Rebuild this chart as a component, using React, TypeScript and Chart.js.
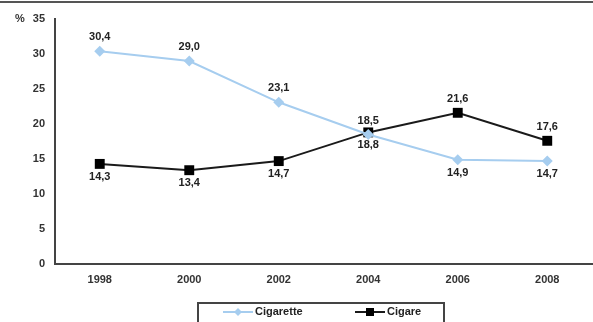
import React, { useEffect, useRef } from "react";
import { Chart, registerables } from "chart.js";

Chart.register(...registerables);

const years = ["1998", "2000", "2002", "2004", "2006", "2008"];
const cigarette = [30.4, 29.0, 23.1, 18.5, 14.9, 14.7];
const cigare = [14.3, 13.4, 14.7, 18.8, 21.6, 17.6];
const cigaretteLabelSide = ["above", "above", "above", "above", "below", "below"];
const cigareLabelSide = ["below", "below", "below", "below", "above", "above"];
const yTicks = [0, 5, 10, 15, 20, 25, 30, 35];

const FONT = "'Liberation Sans', Arial, sans-serif";
const BLUE = "#a6cdef";
const DARK = "#1a1a1a";

const fmt = (v: number) => v.toFixed(1).replace(".", ",");

const decorPlugin = {
  id: "decor",
  afterDatasetsDraw(chart: any) {
    const ctx = chart.ctx;
    ctx.save();
    ctx.font = `bold 11px ${FONT}`;
    ctx.fillStyle = "#222";
    ctx.textAlign = "center";
    ctx.textBaseline = "middle";
    const sides = [cigaretteLabelSide, cigareLabelSide];
    chart.data.datasets.forEach((ds: any, di: number) => {
      const meta = chart.getDatasetMeta(di);
      meta.data.forEach((pt: any, i: number) => {
        const off = sides[di][i] === "above" ? -14 : 13;
        ctx.fillText(fmt(ds.data[i]), pt.x, pt.y + off);
      });
    });
    ctx.restore();
  },
  afterDraw(chart: any) {
    const ctx = chart.ctx;
    ctx.save();
    ctx.fillStyle = "#555";
    ctx.fillRect(0, 1, chart.width, 2);
    ctx.font = `bold 11px ${FONT}`;
    ctx.fillStyle = "#333";
    ctx.textAlign = "left";
    ctx.textBaseline = "middle";
    ctx.fillText("%", 15, chart.scales.y.getPixelForValue(35));
    ctx.strokeStyle = "#444";
    ctx.lineWidth = 2;
    ctx.strokeRect(198, 303, 246, 22);
    const ly = 312;
    ctx.strokeStyle = BLUE;
    ctx.lineWidth = 2;
    ctx.beginPath();
    ctx.moveTo(223, ly);
    ctx.lineTo(253, ly);
    ctx.stroke();
    ctx.fillStyle = BLUE;
    ctx.beginPath();
    ctx.moveTo(238, ly - 4);
    ctx.lineTo(242, ly);
    ctx.lineTo(238, ly + 4);
    ctx.lineTo(234, ly);
    ctx.closePath();
    ctx.fill();
    ctx.strokeStyle = DARK;
    ctx.beginPath();
    ctx.moveTo(355, ly);
    ctx.lineTo(385, ly);
    ctx.stroke();
    ctx.fillStyle = "#000";
    ctx.fillRect(366, ly - 4, 8, 8);
    ctx.font = `bold 11px ${FONT}`;
    ctx.fillStyle = "#222";
    ctx.textAlign = "left";
    ctx.fillText("Cigarette", 255, ly);
    ctx.fillText("Cigare", 387, ly);
    ctx.restore();
  },
};

export default function App() {
  const ref = useRef<HTMLCanvasElement | null>(null);
  useEffect(() => {
    document.body.style.margin = "0";
    const chart = new Chart(ref.current as HTMLCanvasElement, {
      type: "line",
      data: {
        labels: years,
        datasets: [
          {
            label: "Cigarette",
            data: cigarette,
            borderColor: BLUE,
            backgroundColor: BLUE,
            borderWidth: 2,
            pointStyle: "rectRot",
            pointRadius: 5.5,
            pointHoverRadius: 5.5,
            pointBorderWidth: 0,
            tension: 0,
          },
          {
            label: "Cigare",
            data: cigare,
            borderColor: DARK,
            backgroundColor: "#000",
            borderWidth: 2,
            pointStyle: "rect",
            pointRadius: 7,
            pointHoverRadius: 7,
            pointBorderWidth: 0,
            tension: 0,
          },
        ],
      },
      options: {
        animation: false,
        responsive: false,
        layout: { autoPadding: false, padding: { top: 19, right: 1, left: 0, bottom: 0 } },
        plugins: { legend: { display: false }, tooltip: { enabled: false } },
        scales: {
          x: {
            offset: true,
            grid: { display: false, drawTicks: false },
            border: { display: true, color: "#444", width: 2 },
            ticks: {
              color: "#333",
              font: { family: FONT, size: 11, weight: "bold" },
              padding: 9,
              maxRotation: 0,
            },
            afterFit: (s: any) => {
              s.height = 58;
              s.paddingLeft = 0;
              s.paddingRight = 0;
            },
          },
          y: {
            min: 0,
            max: 35,
            afterBuildTicks: (s: any) => {
              s.ticks = yTicks.map((v) => ({ value: v }));
            },
            grid: { display: false, drawTicks: false },
            border: { display: true, color: "#444", width: 2 },
            ticks: {
              color: "#333",
              font: { family: FONT, size: 11, weight: "bold" },
              padding: 10,
            },
            afterFit: (s: any) => {
              s.width = 55;
            },
          },
        },
      },
      plugins: [decorPlugin],
    });
    return () => chart.destroy();
  }, []);
  return (
    <div style={{ width: 593, height: 322 }}>
      <canvas ref={ref} width={593} height={322} style={{ display: "block" }} />
    </div>
  );
}
